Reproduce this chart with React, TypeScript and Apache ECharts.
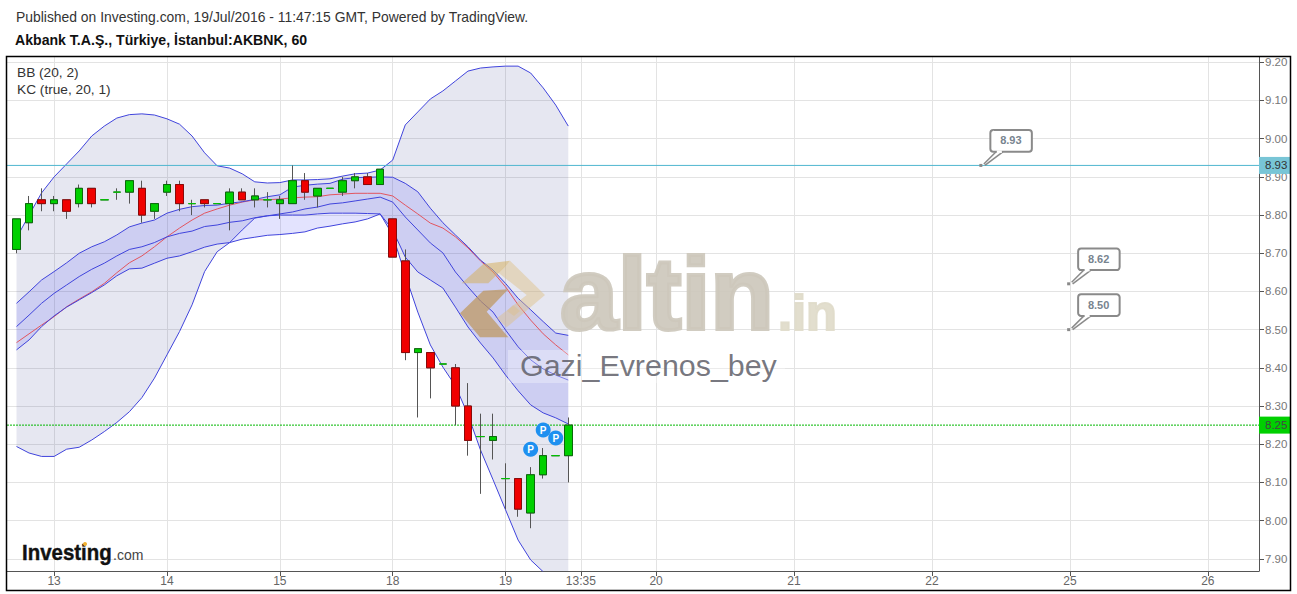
import React, { useEffect, useRef } from "react";
import * as echarts from "echarts";

const FONT = '"Liberation Sans", Arial, sans-serif';

const headerLine = "Published on Investing.com, 19/Jul/2016 - 11:47:15 GMT, Powered by TradingView.";
const symbolLine = "Akbank T.A.Ş., Türkiye, İstanbul:AKBNK, 60";
const indicatorLabels = ["BB (20, 2)", "KC (true, 20, 1)"];

// x positions are bar numbers; the axis covers the bars plus the empty future area
const xAxisMin = -0.7576;
const xAxisMax = 99.08;
const xTickValues = [3, 12, 21, 30, 39, 45, 51, 62, 73, 84, 95];
const xTickLabels = ["13", "14", "15", "18", "19", "13:35", "20", "21", "22", "25", "26"];
const yTickValues = [7.9, 8.0, 8.1, 8.2, 8.3, 8.4, 8.5, 8.6, 8.7, 8.8, 8.9, 9.0, 9.1, 9.2];

const opens = [8.71, 8.78, 8.84, 8.83, 8.84, 8.83, 8.87, 8.84, 8.86, 8.86, 8.87, 8.81, 8.86, 8.88, 8.83, 8.84, 8.83, 8.83, 8.86, 8.84, 8.84, 8.83, 8.83, 8.89, 8.85, 8.87, 8.86, 8.89, 8.9, 8.88, 8.79, 8.68, 8.44, 8.44, 8.41, 8.4, 8.3, 8.22, 8.21, 8.11, 8.11, 8.02, 8.12, 8.17, 8.17];
const closes = [8.79, 8.83, 8.83, 8.84, 8.81, 8.87, 8.83, 8.84, 8.86, 8.89, 8.8, 8.83, 8.88, 8.83, 8.83, 8.83, 8.83, 8.86, 8.84, 8.85, 8.84, 8.84, 8.89, 8.86, 8.87, 8.87, 8.89, 8.9, 8.88, 8.92, 8.69, 8.44, 8.45, 8.4, 8.41, 8.3, 8.21, 8.22, 8.22, 8.11, 8.03, 8.12, 8.17, 8.17, 8.25];
const lows = [8.7, 8.76, 8.81, 8.81, 8.79, 8.82, 8.82, 8.84, 8.84, 8.83, 8.78, 8.79, 8.85, 8.81, 8.8, 8.82, 8.83, 8.76, 8.84, 8.82, 8.82, 8.79, 8.83, 8.84, 8.82, 8.87, 8.85, 8.87, 8.88, 8.88, 8.69, 8.42, 8.27, 8.32, 8.41, 8.25, 8.17, 8.07, 8.16, 8.03, 8.01, 7.98, 8.11, 8.17, 8.1];
const highs = [8.79, 8.85, 8.87, 8.85, 8.84, 8.88, 8.87, 8.84, 8.87, 8.89, 8.89, 8.83, 8.89, 8.89, 8.84, 8.84, 8.83, 8.87, 8.87, 8.87, 8.86, 8.85, 8.93, 8.91, 8.87, 8.87, 8.9, 8.91, 8.91, 8.92, 8.79, 8.71, 8.45, 8.44, 8.41, 8.41, 8.36, 8.28, 8.28, 8.15, 8.11, 8.14, 8.19, 8.17, 8.27];

const bbUpper = [8.74, 8.8, 8.858, 8.9, 8.934, 8.968, 9.007, 9.033, 9.054, 9.063, 9.065, 9.062, 9.052, 9.038, 9.007, 8.963, 8.929, 8.923, 8.908, 8.887, 8.884, 8.885, 8.892, 8.892, 8.893, 8.895, 8.902, 8.908, 8.91, 8.918, 8.944, 9.036, 9.07, 9.104, 9.125, 9.151, 9.177, 9.185, 9.188, 9.19, 9.19, 9.172, 9.133, 9.088, 9.033];
const bbBasis = [8.466, 8.489, 8.512, 8.534, 8.56, 8.58, 8.599, 8.621, 8.649, 8.675, 8.693, 8.717, 8.743, 8.766, 8.787, 8.805, 8.816, 8.826, 8.834, 8.84, 8.84, 8.842, 8.845, 8.847, 8.848, 8.853, 8.855, 8.857, 8.857, 8.857, 8.85, 8.826, 8.803, 8.779, 8.766, 8.743, 8.714, 8.68, 8.651, 8.612, 8.565, 8.525, 8.489, 8.46, 8.434];
const bbLower = [8.194, 8.177, 8.168, 8.168, 8.187, 8.192, 8.211, 8.233, 8.257, 8.285, 8.322, 8.373, 8.434, 8.495, 8.565, 8.652, 8.704, 8.728, 8.761, 8.792, 8.798, 8.8, 8.8, 8.8, 8.803, 8.805, 8.805, 8.805, 8.804, 8.803, 8.748, 8.643, 8.546, 8.46, 8.402, 8.353, 8.277, 8.185, 8.107, 8.028, 7.949, 7.897, 7.866, 7.819, 7.766];
const kcUpper = [8.569, 8.599, 8.63, 8.652, 8.675, 8.7, 8.717, 8.73, 8.748, 8.769, 8.779, 8.787, 8.805, 8.815, 8.822, 8.825, 8.826, 8.831, 8.835, 8.841, 8.848, 8.853, 8.873, 8.878, 8.881, 8.883, 8.894, 8.898, 8.899, 8.9, 8.899, 8.883, 8.861, 8.818, 8.78, 8.748, 8.717, 8.682, 8.656, 8.621, 8.582, 8.552, 8.521, 8.491, 8.485];
const kcMiddle = [8.508, 8.538, 8.569, 8.595, 8.617, 8.639, 8.658, 8.674, 8.693, 8.71, 8.717, 8.728, 8.743, 8.752, 8.758, 8.77, 8.774, 8.781, 8.785, 8.793, 8.798, 8.803, 8.808, 8.816, 8.821, 8.829, 8.832, 8.837, 8.842, 8.847, 8.834, 8.795, 8.761, 8.727, 8.701, 8.651, 8.612, 8.575, 8.546, 8.499, 8.455, 8.421, 8.397, 8.381, 8.368];
const kcLower = [8.447, 8.473, 8.508, 8.536, 8.559, 8.578, 8.597, 8.617, 8.641, 8.659, 8.661, 8.674, 8.687, 8.693, 8.704, 8.716, 8.724, 8.728, 8.737, 8.742, 8.747, 8.749, 8.752, 8.756, 8.766, 8.771, 8.777, 8.782, 8.79, 8.803, 8.761, 8.69, 8.651, 8.63, 8.609, 8.559, 8.507, 8.465, 8.426, 8.381, 8.34, 8.303, 8.282, 8.269, 8.253];

const pivotBars = [41, 42, 43];
const pivotPrices = [8.187, 8.237, 8.216];

const calloutBars = [76.9, 83.9, 83.9];
const calloutPrices = [8.93, 8.62, 8.5];

const alertPrice = 8.93;
const lastPrice = 8.25;

const BLUE = "#4044dc";
const bandPolygon = (upper: number[], lower: number[], fill: string, z: number) => ({
  type: "custom",
  coordinateSystem: "cartesian2d",
  clip: true,
  silent: true,
  z,
  data: [[0, upper[0]]],
  renderItem: (_p: any, api: any) => ({
    type: "polygon",
    shape: {
      points: [
        ...upper.map((v, i) => api.coord([i, v])),
        ...lower.map((v, i) => api.coord([i, v])).reverse(),
      ],
    },
    style: { fill },
  }),
});

const bandLine = (name: string, values: number[], color: string) => ({
  type: "line",
  name,
  data: values.map((v, i) => [i, v]),
  symbol: "none",
  silent: true,
  z: 3,
  lineStyle: { width: 1, color },
});

const priceLine = (name: string, price: number, color: string, lineType: any, textColor: string, bg: string) => ({
  type: "line",
  name,
  data: [
    [xAxisMin, price],
    [xAxisMax, price],
  ],
  symbol: "none",
  silent: true,
  z: 4,
  itemStyle: { color },
  lineStyle: { color, type: lineType, width: 1 },
  endLabel: {
    show: true,
    formatter: price.toFixed(2),
    distance: 0,
    color: textColor,
    fontSize: 11.5,
    backgroundColor: bg,
    padding: [3, 3, 2, 6],
  },
});

export default function App() {
  const ref = useRef<HTMLDivElement>(null);

  useEffect(() => {
    const chart = echarts.init(ref.current!, undefined, { renderer: "svg" });
    const text = (x: number, y: number, t: string, font: string, fill: string, extra: any = {}, styleExtra: any = {}) => ({
      type: "text",
      x,
      y,
      z: 20,
      silent: true,
      ...extra,
      style: { text: t, font, fill, verticalAlign: "middle", ...styleExtra },
    });
    chart.setOption({
      animation: false,
      backgroundColor: "#ffffff",
      textStyle: { fontFamily: FONT },
      grid: { left: 7, top: 57, width: 1252, height: 514 },
      xAxis: {
        type: "value",
        min: xAxisMin,
        max: xAxisMax,
        axisLine: { onZero: false, lineStyle: { color: "#555555", width: 1 } },
        axisTick: { show: true, length: 5, customValues: xTickValues, lineStyle: { color: "#555555" } },
        axisLabel: {
          customValues: xTickValues,
          color: "#666666",
          fontSize: 12,
          margin: 4,
          formatter: (v: number) => xTickLabels[xTickValues.indexOf(v)] ?? "",
        },
        splitLine: { show: true, lineStyle: { color: "#e3e3e3", width: 1 } },
      },
      yAxis: {
        type: "value",
        position: "right",
        min: 7.868,
        max: 9.2139,
        axisLine: { show: true, onZero: false, lineStyle: { color: "#555555", width: 1 } },
        axisTick: { show: true, length: 5, customValues: yTickValues, lineStyle: { color: "#555555" } },
        axisLabel: {
          customValues: yTickValues,
          color: "#777777",
          fontSize: 11.5,
          margin: 6,
          formatter: (v: number) => v.toFixed(2),
        },
        splitLine: { show: true, lineStyle: { color: "#e3e3e3", width: 1 } },
      },
      series: [
        bandPolygon(bbUpper, bbLower, "rgba(60,70,150,0.13)", 1),
        bandPolygon(kcUpper, kcLower, "rgba(70,70,246,0.15)", 2),
        bandLine("BB Upper", bbUpper, BLUE),
        bandLine("BB Lower", bbLower, BLUE),
        bandLine("BB Basis", bbBasis, "#e2555f"),
        bandLine("KC Upper", kcUpper, BLUE),
        bandLine("KC Middle", kcMiddle, BLUE),
        bandLine("KC Lower", kcLower, BLUE),
        priceLine("Alert", alertPrice, "#4fb6cf", "solid", "#333333", "#78c5d6"),
        priceLine("Last", lastPrice, "#00b800", [2, 1], "#444444", "#00d000"),
        {
          type: "candlestick",
          name: "Wicks",
          z: 4,
          barWidth: 8,
          silent: true,
          data: opens.map((o, i) => [i, o, closes[i], lows[i], highs[i]]),
          itemStyle: {
            color: "none",
            color0: "none",
            borderColor: "#555555",
            borderColor0: "#555555",
            borderColorDoji: "#555555",
            borderWidth: 1,
          },
        },
        {
          type: "candlestick",
          name: "Bodies",
          z: 5,
          barWidth: 8,
          silent: true,
          data: opens.map((o, i) => [i, o, closes[i], Math.min(o, closes[i]), Math.max(o, closes[i])]),
          itemStyle: {
            color: "#00d000",
            color0: "#f00000",
            borderColor: "#0a6a0a",
            borderColor0: "#8a0a0a",
            borderColorDoji: "#00c000",
            borderWidth: 1,
          },
        },
        {
          type: "scatter",
          name: "Pivots",
          z: 6,
          silent: true,
          symbolSize: 15,
          data: pivotBars.map((b, i) => [b, pivotPrices[i]]),
          itemStyle: { color: "#1e90f0", opacity: 1 },
          label: {
            show: true,
            position: "inside",
            formatter: "P",
            color: "#ffffff",
            fontSize: 10,
            fontWeight: "bold",
          },
        },
        {
          type: "custom",
          name: "Price notes",
          coordinateSystem: "cartesian2d",
          z: 6,
          silent: true,
          data: calloutBars.map((b, i) => [b, calloutPrices[i]]),
          renderItem: (_p: any, api: any) => {
            const [x, y] = api.coord([api.value(0), api.value(1)]);
            const stroke = "#8a8a8a";
            return {
              type: "group",
              children: [
                { type: "rect", shape: { x: x - 1.5, y: y - 1.5, width: 3, height: 3 }, style: { fill: stroke } },
                {
                  type: "polyline",
                  shape: { points: [[x + 3, y - 1.5], [x + 15, y - 13.5]] },
                  style: { stroke, lineWidth: 1.5, fill: "none" },
                },
                {
                  type: "polyline",
                  shape: { points: [[x + 4, y], [x + 22, y - 13.5]] },
                  style: { stroke, lineWidth: 1.5, fill: "none" },
                },
                {
                  type: "rect",
                  shape: { x: x + 9.5, y: y - 35.3, width: 41.5, height: 21.6, r: 3 },
                  style: { fill: "#ffffff", stroke, lineWidth: 2 },
                },
                {
                  type: "line",
                  shape: { x1: x + 16, y1: y - 13.7, x2: x + 21, y2: y - 13.7 },
                  style: { stroke: "#ffffff", lineWidth: 2.5 },
                },
                {
                  type: "text",
                  x: x + 30,
                  y: y - 25,
                  style: {
                    text: api.value(1).toFixed(2),
                    font: `bold 11px ${FONT}`,
                    fill: "#78848f",
                    align: "center",
                    verticalAlign: "middle",
                  },
                },
              ],
            };
          },
        },
      ],
      graphic: [
        text(16, 17, headerLine, `13.9px ${FONT}`, "#333333"),
        text(15, 40, symbolLine, `bold 14.1px ${FONT}`, "#111111"),
        text(17, 72, indicatorLabels[0], `13.7px ${FONT}`, "#333333"),
        text(17, 89, indicatorLabels[1], `13.7px ${FONT}`, "#333333"),
        {
          type: "polygon", z: 15, silent: true,
          shape: { points: [[461.7, 283.3], [483.3, 264], [510, 260.7], [505, 266.7], [488.3, 283.3]] },
          style: { fill: "rgba(214,176,96,0.55)" },
        },
        {
          type: "polygon", z: 15, silent: true,
          shape: { points: [[510, 260.7], [545, 295], [506.7, 327.3], [496.7, 318.3], [526.7, 295], [498.3, 272.7]] },
          style: { fill: "rgba(222,190,130,0.45)" },
        },
        {
          type: "polygon", z: 15, silent: true,
          shape: { points: [[460, 313.3], [483.3, 290.7], [508.3, 289.3], [486.7, 311.7], [508.3, 337.3], [480, 337.3]] },
          style: { fill: "rgba(190,150,90,0.7)" },
        },
        {
          type: "polygon", z: 15, silent: true,
          shape: { points: [[513, 305], [520, 311], [514, 316], [507, 311]] },
          style: { fill: "rgba(222,190,130,0.4)" },
        },
        text(560, 294, "altin", `bold 102px ${FONT}`, "#cdc8bc", { scaleX: 1.02 }, { stroke: "#cdc8bc", lineWidth: 4, opacity: 0.92 }),
        text(778, 313, ".in", `bold 50px ${FONT}`, "#e0dbca", { scaleX: 1.01 }, { stroke: "#e0dbca", lineWidth: 2, opacity: 0.92 }),
        {
          type: "rect", z: 16, silent: true,
          shape: { x: 508, y: 350, width: 277, height: 33 },
          style: { fill: "rgba(255,255,255,0.3)" },
        },
        text(520, 365, "Gazi_Evrenos_bey", `30.4px ${FONT}`, "rgba(95,95,105,0.85)"),
        text(22, 553, "Investing", `bold 22px ${FONT}`, "#111111", { scaleX: 0.93 }, { stroke: "#111111", lineWidth: 0.4 }),
        text(113, 555, ".com", `14px ${FONT}`, "#444444"),
        { type: "circle", z: 21, silent: true, shape: { cx: 85, cy: 544, r: 2 }, style: { fill: "#f0b030" } },
        {
          type: "rect", z: 30, silent: true,
          shape: { x: 6.5, y: 56.5, width: 1284, height: 534 },
          style: { fill: "none", stroke: "#000000", lineWidth: 1.5 },
        },
      ],
    });
    return () => chart.dispose();
  }, []);

  return <div ref={ref} style={{ position: "fixed", left: 0, top: 0, width: 1297, height: 594 }} />;
}
